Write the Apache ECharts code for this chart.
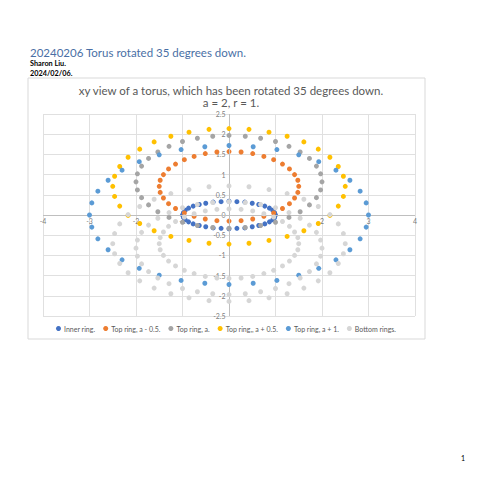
<!DOCTYPE html>
<html>
<head>
<meta charset="utf-8">
<script src="https://cdn.jsdelivr.net/npm/echarts@6/dist/echarts.min.js"></script>
<style>
html,body{margin:0;padding:0;background:#fff;}
#chart{width:495px;height:495px;}
</style>
</head>
<body>
<div id="chart"></div>
<script>
// ---- Data ----
const seriesNames = ["Inner ring.", "Top ring, a - 0.5.", "Top ring, a.", "Top ring,, a + 0.5.", "Top ring, a + 1.", "Bottom rings."];

const innerX = [1,0.98,0.94,0.87,0.77,0.64,0.5,0.34,0.17,0,-0.17,-0.34,-0.5,-0.64,-0.77,-0.87,-0.94,-0.98,-1,-0.98,-0.94,-0.87,-0.77,-0.64,-0.5,-0.34,-0.17,0,0.17,0.34,0.5,0.64,0.77,0.87,0.94,0.98];
const innerY = [0,0.06,0.12,0.17,0.22,0.26,0.29,0.32,0.33,0.34,0.33,0.32,0.29,0.26,0.22,0.17,0.12,0.06,0,-0.06,-0.12,-0.17,-0.22,-0.26,-0.29,-0.32,-0.33,-0.34,-0.33,-0.32,-0.29,-0.26,-0.22,-0.17,-0.12,-0.06];

const ringAm05X = [1.5,1.48,1.41,1.3,1.15,0.96,0.75,0.51,0.26,0,-0.26,-0.51,-0.75,-0.96,-1.15,-1.3,-1.41,-1.48,-1.5,-1.48,-1.41,-1.3,-1.15,-0.96,-0.75,-0.51,-0.26,0,0.26,0.51,0.75,0.96,1.15,1.3,1.41,1.48];
const ringAm05Y = [0.71,0.86,1.0,1.14,1.26,1.37,1.45,1.52,1.56,1.57,1.56,1.52,1.45,1.37,1.26,1.14,1.0,0.86,0.71,0.56,0.42,0.28,0.16,0.05,-0.03,-0.1,-0.14,-0.15,-0.14,-0.1,-0.03,0.05,0.16,0.28,0.42,0.56];

const ringAX = [2,1.97,1.88,1.73,1.53,1.29,1,0.68,0.35,0,-0.35,-0.68,-1,-1.29,-1.53,-1.73,-1.88,-1.97,-2,-1.97,-1.88,-1.73,-1.53,-1.29,-1,-0.68,-0.35,0,0.35,0.68,1,1.29,1.53,1.73,1.88,1.97];
const ringAY = [0.82,1.02,1.21,1.4,1.56,1.7,1.82,1.9,1.95,1.97,1.95,1.9,1.82,1.7,1.56,1.4,1.21,1.02,0.82,0.62,0.43,0.25,0.08,-0.06,-0.18,-0.26,-0.31,-0.33,-0.31,-0.26,-0.18,-0.06,0.08,0.25,0.43,0.62];

const ringAp05X = [2.5,2.46,2.35,2.17,1.92,1.61,1.25,0.86,0.43,0,-0.43,-0.86,-1.25,-1.61,-1.92,-2.17,-2.35,-2.46,-2.5,-2.46,-2.35,-2.17,-1.92,-1.61,-1.25,-0.86,-0.43,0,0.43,0.86,1.25,1.61,1.92,2.17,2.35,2.46];
const ringAp05Y = [0.71,0.96,1.2,1.43,1.63,1.81,1.95,2.05,2.12,2.14,2.12,2.05,1.95,1.81,1.63,1.43,1.2,0.96,0.71,0.46,0.22,-0.01,-0.21,-0.39,-0.53,-0.63,-0.7,-0.72,-0.7,-0.63,-0.53,-0.39,-0.21,-0.01,0.22,0.46];

const ringAp1X = [3,2.95,2.82,2.6,2.3,1.93,1.5,1.03,0.52,0,-0.52,-1.03,-1.5,-1.93,-2.3,-2.6,-2.82,-2.95,-3,-2.95,-2.82,-2.6,-2.3,-1.93,-1.5,-1.03,-0.52,0,0.52,1.03,1.5,1.93,2.3,2.6,2.82,2.95];
const ringAp1Y = [0,0.3,0.59,0.86,1.11,1.32,1.49,1.62,1.69,1.72,1.69,1.62,1.49,1.32,1.11,0.86,0.59,0.3,0,-0.3,-0.59,-0.86,-1.11,-1.32,-1.49,-1.62,-1.69,-1.72,-1.69,-1.62,-1.49,-1.32,-1.11,-0.86,-0.59,-0.3];

const bottomX = [
  1.5,1.48,1.41,1.3,1.15,0.96,0.75,0.51,0.26,0,-0.26,-0.51,-0.75,-0.96,-1.15,-1.3,-1.41,-1.48,-1.5,-1.48,-1.41,-1.3,-1.15,-0.96,-0.75,-0.51,-0.26,0,0.26,0.51,0.75,0.96,1.15,1.3,1.41,1.48,
  2,1.97,1.88,1.73,1.53,1.29,1,0.68,0.35,0,-0.35,-0.68,-1,-1.29,-1.53,-1.73,-1.88,-1.97,-2,-1.97,-1.88,-1.73,-1.53,-1.29,-1,-0.68,-0.35,0,0.35,0.68,1,1.29,1.53,1.73,1.88,1.97,
  2.5,2.46,2.35,2.17,1.92,1.61,1.25,0.86,0.43,0,-0.43,-0.86,-1.25,-1.61,-1.92,-2.17,-2.35,-2.46,-2.5,-2.46,-2.35,-2.17,-1.92,-1.61,-1.25,-0.86,-0.43,0,0.43,0.86,1.25,1.61,1.92,2.17,2.35,2.46
];
const bottomY = [
  -0.71,-0.56,-0.42,-0.28,-0.16,-0.05,0.03,0.1,0.14,0.15,0.14,0.1,0.03,-0.05,-0.16,-0.28,-0.42,-0.56,-0.71,-0.86,-1.0,-1.14,-1.26,-1.37,-1.45,-1.52,-1.56,-1.57,-1.56,-1.52,-1.45,-1.37,-1.26,-1.14,-1.0,-0.86,
  -0.82,-0.62,-0.43,-0.25,-0.08,0.06,0.18,0.26,0.31,0.33,0.31,0.26,0.18,0.06,-0.08,-0.25,-0.43,-0.62,-0.82,-1.02,-1.21,-1.4,-1.56,-1.7,-1.82,-1.9,-1.95,-1.97,-1.95,-1.9,-1.82,-1.7,-1.56,-1.4,-1.21,-1.02,
  -0.71,-0.46,-0.22,0.01,0.21,0.39,0.53,0.63,0.7,0.72,0.7,0.63,0.53,0.39,0.21,0.01,-0.22,-0.46,-0.71,-0.96,-1.2,-1.43,-1.63,-1.81,-1.95,-2.05,-2.12,-2.14,-2.12,-2.05,-1.95,-1.81,-1.63,-1.43,-1.2,-0.96
];

// tick labels shown on the axes that cross at the origin
const xTickValues = [-4, -3, -2, -1, 1, 2, 3, 4];
const yTickValues = [-2.5, -2, -1.5, -1, -0.5, 0, 0.5, 1, 1.5, 2, 2.5];

// ---- Styling ----
const colors = ["#4472C4", "#ED7D31", "#A5A5A5", "#FFC000", "#5B9BD5", "#D6D6D6"];
const FONT = "Lato, 'Liberation Sans', sans-serif";
const LABEL_COLOR = '#595959';

function zip(xs, ys) { return xs.map((x, i) => [x, ys[i]]); }
const seriesData = [
  zip(innerX, innerY),
  zip(ringAm05X, ringAm05Y),
  zip(ringAX, ringAY),
  zip(ringAp05X, ringAp05Y),
  zip(ringAp1X, ringAp1Y),
  zip(bottomX, bottomY)
];

const axisCommon = {
  type: 'value',
  axisLine: { show: false },
  axisTick: { show: false },
  axisLabel: { show: false },
  splitLine: { show: true, lineStyle: { color: '#E0E0E0', width: 1 } }
};

const chart = echarts.init(document.getElementById('chart'), null, { renderer: 'svg' });
chart.setOption({
  backgroundColor: '#ffffff',
  animation: false,
  color: colors,
  textStyle: { fontFamily: FONT },
  title: {
    text: 'xy view of a torus, which has been rotated 35 degrees down.\na = 2, r = 1.',
    left: 231, top: 84, textAlign: 'center', padding: 0,
    textStyle: { fontFamily: FONT, fontSize: 11.5, fontWeight: 'normal', color: '#595959', lineHeight: 12.5 }
  },
  grid: { left: 43, top: 114, width: 372, height: 202, containLabel: false },
  xAxis: Object.assign({}, axisCommon, { min: -4, max: 4, interval: 1 }),
  yAxis: Object.assign({}, axisCommon, { min: -2.5, max: 2.5, interval: 0.5 }),
  legend: {
    left: 56, top: 325, padding: 0,
    icon: 'circle', itemWidth: 5, itemHeight: 5, itemGap: 8,
    textStyle: { fontSize: 7, color: LABEL_COLOR, fontFamily: FONT, padding: [0, 0, 0, -2] },
    data: seriesNames
  },
  series: [
    {
      name: 'xTicks', type: 'scatter', silent: true, symbolSize: 1, z: 1,
      itemStyle: { color: 'rgba(0,0,0,0)' },
      data: xTickValues.map(v => [v, 0]),
      label: { show: true, position: 'bottom', distance: 2, fontSize: 7, color: LABEL_COLOR, fontFamily: FONT,
        formatter: p => String(p.value[0]) },
      markLine: {
        silent: true, symbol: ['none', 'none'], label: { show: false },
        lineStyle: { color: '#BFBFBF', width: 1, type: 'solid' },
        data: [{ xAxis: 0 }, { yAxis: 0 }]
      }
    },
    {
      name: 'yTicks', type: 'scatter', silent: true, symbolSize: 1, z: 1,
      itemStyle: { color: 'rgba(0,0,0,0)' },
      data: yTickValues.map(v => [0, v]),
      label: { show: true, position: 'left', distance: 3, fontSize: 7, color: LABEL_COLOR, fontFamily: FONT,
        formatter: p => String(p.value[1]) }
    }
  ].concat(seriesNames.map((name, i) => ({
    name: name, type: 'scatter', symbol: 'circle', symbolSize: 5,
    data: seriesData[i],
    itemStyle: { color: colors[i], opacity: 1 },
    z: 3 + i
  }))),
  graphic: [
    { type: 'rect', shape: { x: 28, y: 78, width: 397, height: 261 }, style: { fill: 'none', stroke: '#D9D9D9', lineWidth: 1 }, z: 0 },
    { type: 'text', x: 30, y: 52.5, style: { text: '20240206 Torus rotated 35 degrees down.', fontFamily: FONT, fontSize: 11.5, fill: '#4A6FA5', verticalAlign: 'middle' } },
    { type: 'text', x: 30, y: 63.5, style: { text: 'Sharon Liu.', fontFamily: FONT, fontSize: 7.3, fontWeight: 'bold', fill: '#000', verticalAlign: 'middle' } },
    { type: 'text', x: 30, y: 73.5, style: { text: '2024/02/06.', fontFamily: FONT, fontSize: 7.3, fontWeight: 'bold', fill: '#000', verticalAlign: 'middle' } },
    { type: 'text', x: 461, y: 458, style: { text: '1', fontFamily: FONT, fontSize: 7, fill: '#000', verticalAlign: 'middle' } }
  ]
});
</script>
</body>
</html>
